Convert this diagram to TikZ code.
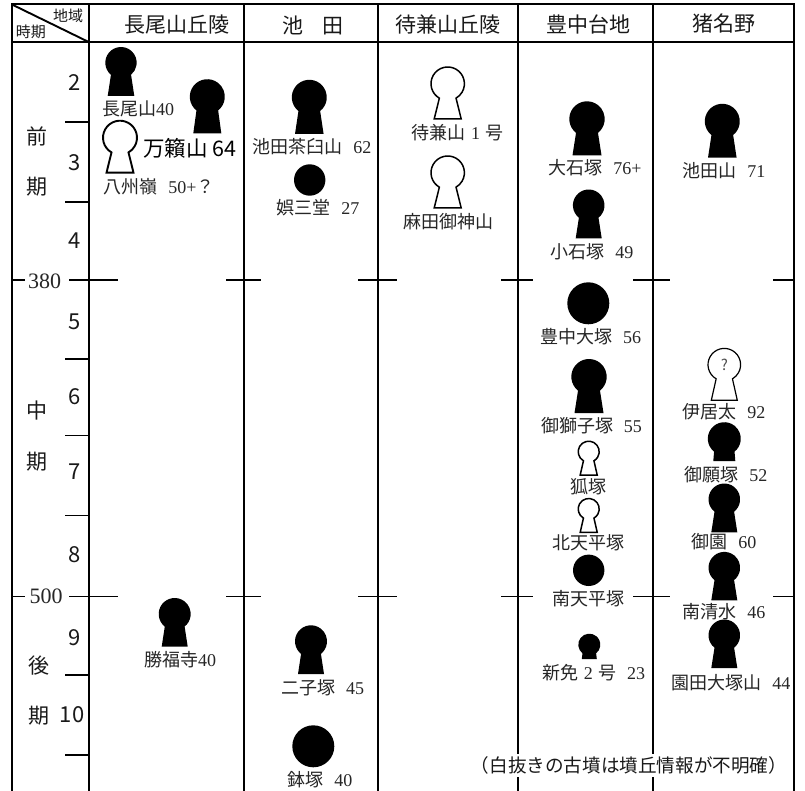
\documentclass[tikz,border=0pt]{standalone}
\usepackage{fontspec}
\setmainfont{Liberation Serif}
\newfontfamily\J{Noto Sans CJK JP}
\tikzset{
  grid/.style={draw=black,line width=1.9pt},
  heavy/.style={draw=black,line width=2.2pt},
  tick/.style={draw=black,line width=1.6pt},
  filledkh/.style={fill=black,draw=none},
  openkh/.style={fill=white,draw=black,line width=1.5pt},
  lab/.style={inner sep=0pt,font=\fontsize{18}{20}\selectfont,text=black!85},
  head/.style={inner sep=0pt,font=\J\fontsize{21}{24}\selectfont,text=black!90},
  small/.style={inner sep=0pt,font=\J\fontsize{15}{17}\selectfont,text=black!90},
  num/.style={inner sep=0pt,font=\J\fontsize{22}{24}\selectfont,text=black!90},
  year/.style={inner sep=0pt,font=\fontsize{22}{24}\selectfont,text=black!85},
}
\newcommand{\gp}{\hspace{0.6em}}
\newcommand{\ga}{\hspace{0.3em}}
% keyhole: cx, cy (px, downward), r, bottom y, half width of base, style, neck ratio
\newcommand{\kh}[7]{%
  \pgfmathsetmacro{\nk}{#7*#3}%
  \pgfmathsetmacro{\ang}{asin(#7)}%
  \pgfmathsetmacro{\ny}{#2+#3*cos(\ang)}%
  \path[#6] ({#1-#5},-#4) -- ({#1-\nk},-\ny)
    arc[start angle=270-\ang,end angle=-90+\ang,radius=#3 pt]
    -- ({#1+#5},-#4) -- cycle;%
}
\newcommand{\lb}[4]{\node[lab] (#1) at (#2,-#3) {#4};}
\begin{document}
\begin{tikzpicture}[x=1pt,y=1pt]
\useasboundingbox (0,-791) rectangle (805,0);
\fill[white] (0,-791) rectangle (805,0);
% ---- frame
\coordinate (tl) at (12,-4);
\coordinate (tr) at (794,-4);
\coordinate (bl) at (12,-791);
\coordinate (br) at (794,-791);
\coordinate (hl) at (12,-42);
\coordinate (hr) at (794,-42);
\draw[heavy] (bl) -- (tl) -- (tr) -- (br);
\draw[grid] (hl) -- (hr);
\foreach \cx in {88.7,244,378,518,653} \draw[grid] (\cx,-4) -- (\cx,-791);
\draw[grid] (13,-5) -- (88.7,-42);
% ---- period ticks
\foreach \ty in {122,202,358.7,435.3,515.3,675,754.7} \draw[tick] (65,-\ty) -- (88.7,-\ty);
% ---- year lines
\foreach \ty in {280,596.3}{
  \draw[tick] (12,-\ty) -- (25,-\ty);
  \draw[tick] (69,-\ty) -- (117.5,-\ty);
  \draw[tick] (226,-\ty) -- (261,-\ty);
  \draw[tick] (358,-\ty) -- (397,-\ty);
  \draw[tick] (501,-\ty) -- (533,-\ty);
  \draw[tick] (633,-\ty) -- (670,-\ty);
  \draw[tick] (773,-\ty) -- (794,-\ty);
}
% ---- headers
\node[small] (chiiki) at (68,-15.5) {地域};
\node[small] (jiki) at (31,-32) {時期};
\node[head] (h1) at (177,-25) {長尾山丘陵};
\node[head] (h2) at (313,-25) {池\hspace{0.9em}田};
\node[head] (h3) at (448,-25) {待兼山丘陵};
\node[head] (h4) at (588,-24) {豊中台地};
\node[head] (h5) at (724,-24) {猪名野};
% ---- periods
\node[head] (p1) at (37,-136) {前};
\node[head] (p2) at (37,-187) {期};
\node[head] (p3) at (37,-411) {中};
\node[head] (p4) at (37,-462) {期};
\node[head] (p5) at (39,-666) {後};
\node[head] (p6) at (39,-716) {期};
% ---- phase numbers
\node[num] (n2) at (75,-83) {2};
\node[num] (n3) at (75,-163) {3};
\node[num] (n4) at (75,-241) {4};
\node[num] (n5) at (75,-322) {5};
\node[num] (n6) at (75,-397) {6};
\node[num] (n7) at (75,-472) {7};
\node[num] (n8) at (75,-555) {8};
\node[num] (n9) at (75,-638) {9};
\node[num] (n10) at (72,-715) {10};
\node[year] (y380) at (44.5,-281) {380};
\node[year] (y500) at (46,-596.5) {500};
% ---- keyholes
\kh{121}{62.7}{15.7}{96}{13.3}{filledkh}{0.64}
\kh{207.3}{96.7}{17.5}{133.3}{14}{filledkh}{0.62}
\kh{120}{137.7}{17}{172.7}{13.5}{openkh,line width=1.9pt}{0.5}
\kh{309.3}{97.3}{17.5}{134}{14.3}{filledkh}{0.62}
\kh{447.7}{83.7}{16.7}{119}{13.5}{openkh}{0.5}
\kh{447.7}{172.7}{16.7}{208}{13.5}{openkh}{0.5}
\kh{587}{119}{17.7}{155.3}{14.5}{filledkh}{0.62}
\kh{588.7}{205.3}{15.8}{238.3}{13}{filledkh}{0.62}
\kh{722.3}{121.3}{17.5}{157.7}{14.3}{filledkh}{0.62}
\kh{589}{376.7}{17.7}{413}{14.5}{filledkh}{0.62}
\kh{588.7}{451.7}{10.5}{475}{8.5}{openkh}{0.5}
\kh{588.7}{509}{10.5}{532.3}{8.5}{openkh}{0.5}
\kh{589.3}{644.7}{11}{659}{7.5}{filledkh}{0.62}
\kh{724.3}{364.7}{16.3}{400.3}{13}{openkh,line width=1.2pt}{0.5}
\kh{724.3}{438.7}{16.5}{461}{11}{filledkh}{0.62}
\kh{724.3}{499.3}{15.8}{532.3}{13}{filledkh}{0.62}
\kh{724.3}{567.7}{15.8}{600.3}{13}{filledkh}{0.62}
\kh{724.3}{635.3}{15.8}{668}{13}{filledkh}{0.62}
\kh{174.7}{614}{16}{646.7}{13}{filledkh}{0.62}
\kh{311}{641.3}{16}{674}{13}{filledkh}{0.62}
% ---- round mounds
\fill (309.7,-180) circle[radius=15.7pt];
\fill (588.3,-303.3) circle[radius=21pt];
\fill (588.7,-570.3) circle[radius=15.7pt];
\fill (313.3,-746.3) circle[radius=21pt];
% ---- labels
\node[inner sep=0pt,font=\J\fontsize{15}{17}\selectfont,text=black!70] (q) at (724.3,-364.5) {?};
\lb{l1}{138}{109}{{\J 長尾山}40}
\node[inner sep=0pt,font=\J\fontsize{21.5}{24}\selectfont] (l2) at (190,-148) {万籟山 64};
\lb{l3}{159}{187}{{\J 八州嶺}\gp 50+{\J ？}}
\lb{l4}{312}{147}{{\J 池田茶臼山}\gp 62}
\lb{l5}{318}{208}{{\J 娯三堂}\gp 27}
\lb{l6}{457.5}{133}{{\J 待兼山}\ga 1\ga{\J 号}}
\lb{l7}{448}{222}{{\J 麻田御神山}}
\lb{l8}{595}{168}{{\J 大石塚}\gp 76+}
\lb{l9}{592}{252}{{\J 小石塚}\gp 49}
\lb{l10}{724}{171}{{\J 池田山}\gp 71}
\lb{l11}{590.7}{336.7}{{\J 豊中大塚}\gp 56}
\lb{l12}{591.5}{425.7}{{\J 御獅子塚}\gp 55}
\lb{l13}{588}{486.7}{{\J 狐塚}}
\lb{l14}{588}{543}{{\J 北天平塚}}
\lb{l15}{588}{599}{{\J 南天平塚}}
\lb{l16}{593.7}{673}{{\J 新免}\ga 2\ga{\J 号}\gp 23}
\lb{l17}{724}{411.7}{{\J 伊居太}\gp 92}
\lb{l18}{726}{474.7}{{\J 御願塚}\gp 52}
\lb{l19}{724}{542}{{\J 御園}\gp 60}
\lb{l20}{724}{612}{{\J 南清水}\gp 46}
\lb{l21}{731}{683}{{\J 園田大塚山}\gp 44}
\lb{l22}{180}{660}{{\J 勝福寺}40}
\lb{l23}{322.7}{688}{{\J 二子塚}\gp 45}
\lb{l24}{320}{780}{{\J 鉢塚}\gp 40}
\node[fill=white,inner xsep=0pt,inner ysep=3pt,font=\J\fontsize{18.6}{20}\selectfont,text=black!90] (note) at (629,-765.5) {（白抜きの古墳は墳丘情報が不明確）};
\end{tikzpicture}
\end{document}
